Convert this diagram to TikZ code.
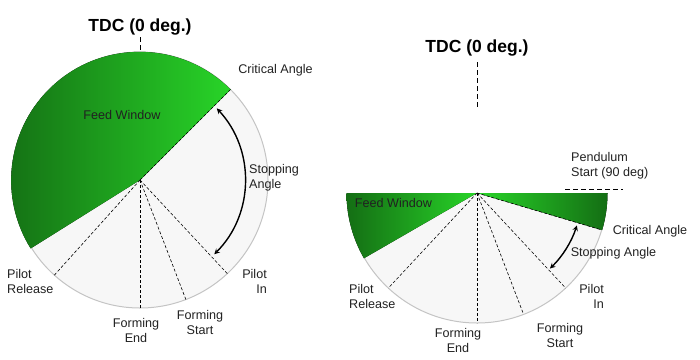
\documentclass[tikz,border=0pt]{standalone}
\usepackage{fontspec}
\setmainfont{Liberation Sans}
\usetikzlibrary{arrows}

\definecolor{feeddark}{RGB}{20,110,20}
\definecolor{feedlight}{RGB}{40,212,40}
\definecolor{discfill}{RGB}{247,247,247}
\definecolor{discrim}{RGB}{196,196,196}

\begin{document}
\begin{tikzpicture}[x=1pt, y=1pt,
    every node/.style={font=\fontsize{12.6}{15}\selectfont, text=black!87, inner sep=0pt},
    title/.style={font=\fontsize{17.5}{20}\selectfont\bfseries, text=black},
    disc/.style={fill=discfill, draw=discrim, line width=1pt},
    feed/.style={left color=feeddark, right color=feedlight},
    feedrev/.style={left color=feedlight, right color=feeddark},
    guide/.style={dash pattern=on 3pt off 2pt, line width=0.6pt},
    tick/.style={dash pattern=on 5pt off 3pt, line width=0.7pt},
    stoparrow/.style={<->, >=stealth, line width=1.4pt}
]
\useasboundingbox (0,0) rectangle (700,-359);

% Left: full turn of the crank
\coordinate (l_center) at (140,-180);
\coordinate (l_top) at ([shift={(90:128)}]l_center);
\coordinate (l_crit) at ([shift={(45:128)}]l_center);
\coordinate (l_pilot_in) at ([shift={(-47:128)}]l_center);
\coordinate (l_form_start) at ([shift={(-69:128)}]l_center);
\coordinate (l_form_end) at ([shift={(-90:128)}]l_center);
\coordinate (l_pilot_rel) at ([shift={(228:128)}]l_center);

\path[disc] (l_center) circle[radius=128];
\fill[feed] (l_center) -- (l_crit) arc[start angle=45, end angle=212, radius=128.5] -- cycle;
\foreach \p in {l_crit, l_pilot_in, l_form_start, l_form_end, l_pilot_rel}
    \draw[guide] (l_center) -- (\p);
\draw[stoparrow] ([shift={(43:105)}]l_center) arc[start angle=43, end angle=-45, radius=105];

\node[title] (l_tdc) at (140,-27) {TDC (0 deg.)};
\draw[tick] ([yshift=-2pt]l_tdc.south) -- ([yshift=2pt]l_top);
\node (l_crit_label) at (275.5,-70) {Critical Angle};
\node (l_feed_label) at (122,-115) {Feed Window};
\node[align=left, anchor=west] (l_stop_label) at (249,-177.5) {Stopping\\Angle};
\node[align=left, anchor=west] (l_rel_label) at (7,-281) {Pilot\\Release};
\node[align=right, anchor=east] (l_in_label) at (267,-281) {Pilot\\In};
\node[align=center] (l_end_label) at (136,-330) {Forming\\End};
\node[align=center] (l_start_label) at (200,-322) {Forming\\Start};

% Right: pendulum stroke
\coordinate (r_center) at (477,-193);
\coordinate (r_tdc_end) at ([yshift=83pt]r_center);
\coordinate (r_pend) at ([shift={(0:130)}]r_center);
\coordinate (r_crit) at ([shift={(-16.5:130)}]r_center);
\coordinate (r_pilot_in) at ([shift={(-47:130)}]r_center);
\coordinate (r_form_start) at ([shift={(-69:130)}]r_center);
\coordinate (r_form_end) at ([shift={(-90:130)}]r_center);
\coordinate (r_pilot_rel) at ([shift={(227:130)}]r_center);

\path[disc] ([shift={(180:130)}]r_center) arc[start angle=180, end angle=360, radius=130];
\fill[feed] (r_center) -- ([shift={(180:130.5)}]r_center) arc[start angle=180, end angle=210, radius=130.5] -- cycle;
\fill[feedrev] (r_center) -- ([shift={(0:130.5)}]r_center) arc[start angle=0, end angle=-16.5, radius=130.5] -- cycle;
\foreach \p in {r_crit, r_pilot_in, r_form_start, r_form_end, r_pilot_rel}
    \draw[guide] (r_center) -- (\p);
\draw[stoparrow] ([shift={(-18:105)}]r_center) arc[start angle=-18, end angle=-46, radius=105];

\node[title] (r_tdc) at (477,-48) {TDC (0 deg.)};
\draw[tick] ([yshift=-6pt]r_tdc.south) -- (r_tdc_end);
\draw[tick] ([shift={(-42pt,4pt)}]r_pend) -- ([shift={(16pt,4pt)}]r_pend);
\node[align=left, anchor=west] (r_pend_label) at (571,-166) {Pendulum\\Start (90 deg)};
\node (r_crit_label) at (650,-231) {Critical Angle};
\node (r_stop_label) at (613.5,-253) {Stopping Angle};
\node (r_feed_label) at (393.5,-203) {Feed Window};
\node[align=left, anchor=west] (r_rel_label) at (349,-296) {Pilot\\Release};
\node[align=right, anchor=east] (r_in_label) at (604,-296) {Pilot\\In};
\node[align=center] (r_end_label) at (458,-340) {Forming\\End};
\node[align=center] (r_start_label) at (560,-335) {Forming\\Start};

\end{tikzpicture}
\end{document}
